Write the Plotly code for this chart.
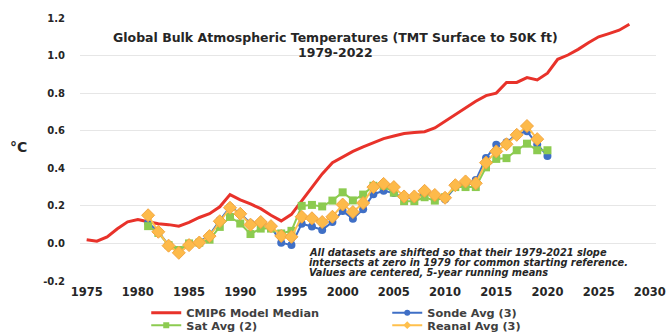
import plotly.graph_objects as go

# CMIP6 model median, 1975-2028 (5-yr centered running means, deg C)
model_years = list(range(1975, 2029))
cmip6_median = [
    0.020, 0.012, 0.035, 0.078, 0.115, 0.127, 0.115, 0.105, 0.100, 0.092,
    0.112, 0.138, 0.158, 0.195, 0.260, 0.232, 0.210, 0.185, 0.150, 0.120,
    0.155, 0.225, 0.300, 0.370, 0.430, 0.460, 0.490, 0.514, 0.537, 0.558,
    0.572, 0.585, 0.590, 0.595, 0.615, 0.650, 0.685, 0.718, 0.757, 0.787,
    0.800, 0.857, 0.857, 0.883, 0.870, 0.906, 0.980, 1.003, 1.033, 1.068,
    1.100, 1.117, 1.135, 1.167,
]

# Observational datasets, 1981-2020
obs_years = list(range(1981, 2021))
sonde_avg = [
    0.110, 0.062, -0.009, -0.050, -0.005, 0.008, 0.044, 0.123, 0.194, 0.161,
    0.106, 0.114, 0.088, 0.004, -0.009, 0.105, 0.090, 0.072, 0.114, 0.172,
    0.132, 0.182, 0.262, 0.280, 0.268, 0.240, 0.240, 0.270, 0.250, 0.235,
    0.300, 0.315, 0.337, 0.455, 0.525, 0.538, 0.580, 0.597, 0.527, 0.466,
]
sat_avg = [
    0.092, 0.056, -0.009, -0.035, 0.000, 0.004, 0.020, 0.088, 0.141, 0.106,
    0.050, 0.079, 0.079, 0.053, 0.067, 0.200, 0.205, 0.197, 0.228, 0.272,
    0.229, 0.260, 0.307, 0.307, 0.270, 0.225, 0.225, 0.246, 0.228, 0.246,
    0.300, 0.300, 0.300, 0.405, 0.450, 0.454, 0.496, 0.531, 0.496, 0.496,
]

# Reanalysis average, 1981-2019
reanal_years = list(range(1981, 2020))
reanal_avg = [
    0.150, 0.062, -0.012, -0.050, -0.009, 0.005, 0.039, 0.118, 0.190, 0.158,
    0.100, 0.114, 0.092, 0.040, 0.035, 0.142, 0.134, 0.114, 0.142, 0.207,
    0.167, 0.215, 0.300, 0.317, 0.300, 0.250, 0.250, 0.280, 0.258, 0.243,
    0.310, 0.330, 0.320, 0.430, 0.490, 0.528, 0.578, 0.625, 0.555,
]

x_ticks = [1975, 1980, 1985, 1990, 1995, 2000, 2005, 2010, 2015, 2020, 2025, 2030]
y_ticks = [-0.2, 0.0, 0.2, 0.4, 0.6, 0.8, 1.0, 1.2]
y_tick_text = ["-0.2", "0.0", "0.2", "0.4", "0.6", "0.8", "1.0", "1.2"]

title_lines = ["Global Bulk Atmospheric Temperatures (TMT Surface to 50K ft)", "1979-2022"]
note_lines = [
    "All datasets are shifted so that their 1979-2021 slope",
    "intersects at zero in 1979 for common starting reference.",
    "Values are centered, 5-year running means",
]

FONT = "DejaVu Sans"
TEXT = "#262626"

RED = "#E8322A"
BLUE = "#3F6FC6"
GREEN = "#8CCB50"
ORANGE_LINE = "#FFC04D"
ORANGE_FILL = "#FDBA4A"
ORANGE_EDGE = "#F4A640"

fig = go.Figure()

# data series (legend entries are drawn by the small-marker keys below)
fig.add_trace(go.Scatter(
    x=model_years, y=cmip6_median, name="CMIP6 Model Median", mode="lines",
    line=dict(color=RED, width=3), showlegend=False,
))
fig.add_trace(go.Scatter(
    x=obs_years, y=sonde_avg, name="Sonde Avg (3)", mode="lines+markers",
    line=dict(color=BLUE, width=2),
    marker=dict(symbol="circle", size=8, color=BLUE), showlegend=False,
))
fig.add_trace(go.Scatter(
    x=obs_years, y=sat_avg, name="Sat Avg (2)", mode="lines+markers",
    line=dict(color=GREEN, width=2),
    marker=dict(symbol="square", size=8, color=GREEN), showlegend=False,
))
fig.add_trace(go.Scatter(
    x=reanal_years, y=reanal_avg, name="Reanal Avg (3)", mode="lines+markers",
    line=dict(color=ORANGE_LINE, width=2),
    marker=dict(symbol="diamond", size=10, color=ORANGE_FILL,
                line=dict(color=ORANGE_EDGE, width=1)),
    showlegend=False,
))

# legend keys with smaller symbols, two rows of two entries
legend_keys = [
    ("CMIP6 Model Median", RED, None, 3, "legend"),
    ("Sonde Avg (3)", BLUE, "circle", 2, "legend"),
    ("Sat Avg (2)", GREEN, "square", 2, "legend2"),
    ("Reanal Avg (3)", ORANGE_LINE, "diamond", 2, "legend2"),
]
for name, color, symbol, width, leg in legend_keys:
    fig.add_trace(go.Scatter(
        x=[None], y=[None], name=name,
        mode="lines" if symbol is None else "lines+markers",
        line=dict(color=color, width=width),
        marker=dict(symbol=symbol or "circle", size=6, color=color),
        legend=leg, hoverinfo="skip",
    ))

annotations = [
    dict(text=title_lines[0], x=0.443, y=0.924, xref="paper", yref="paper",
         showarrow=False, xanchor="center", yanchor="middle",
         font=dict(family=FONT, size=12.5, color=TEXT, weight="bold")),
    dict(text=title_lines[1], x=0.443, y=0.867, xref="paper", yref="paper",
         showarrow=False, xanchor="center", yanchor="middle",
         font=dict(family=FONT, size=12.5, color=TEXT, weight="bold")),
    dict(text="°C", x=-0.106, y=0.51, xref="paper", yref="paper",
         showarrow=False, xanchor="center", yanchor="middle",
         font=dict(family=FONT, size=14, color=TEXT, weight="bold")),
]
for i, line in enumerate(note_lines):
    annotations.append(dict(
        text=line, x=0.394, y=0.1076 - i * 0.038, xref="paper", yref="paper",
        showarrow=False, xanchor="left", yanchor="middle",
        font=dict(family=FONT, size=9.8, color=TEXT, weight="bold", style="italic"),
    ))

legend_common = dict(
    orientation="h", xanchor="left", yanchor="middle", x=0.115,
    entrywidth=196, entrywidthmode="pixels", bgcolor="rgba(0,0,0,0)",
    font=dict(family=FONT, size=11.3, color="#404040", weight="bold"),
    itemclick=False, itemdoubleclick=False,
)

fig.update_layout(
    width=666, height=332,
    margin=dict(l=80, r=10, t=18, b=51, autoexpand=False),
    paper_bgcolor="white", plot_bgcolor="white",
    showlegend=True,
    legend=dict(**legend_common, y=-0.121),
    legend2=dict(**legend_common, y=-0.168),
    annotations=annotations,
    xaxis=dict(
        range=[1974.35, 2030.6], tickvals=x_ticks, showgrid=False,
        zeroline=False, showline=False, ticks="",
        tickfont=dict(family=FONT, size=11.5, color=TEXT, weight="bold"),
        ticklabelstandoff=2,
    ),
    yaxis=dict(
        range=[-0.2, 1.2], tickvals=y_ticks, ticktext=y_tick_text,
        showgrid=True, gridcolor="#E6E6E6", gridwidth=1,
        zeroline=False, showline=False, ticks="",
        tickfont=dict(family=FONT, size=10, color=TEXT, weight="bold"),
        ticklabelstandoff=14,
    ),
)

fig.write_html("out.html")
